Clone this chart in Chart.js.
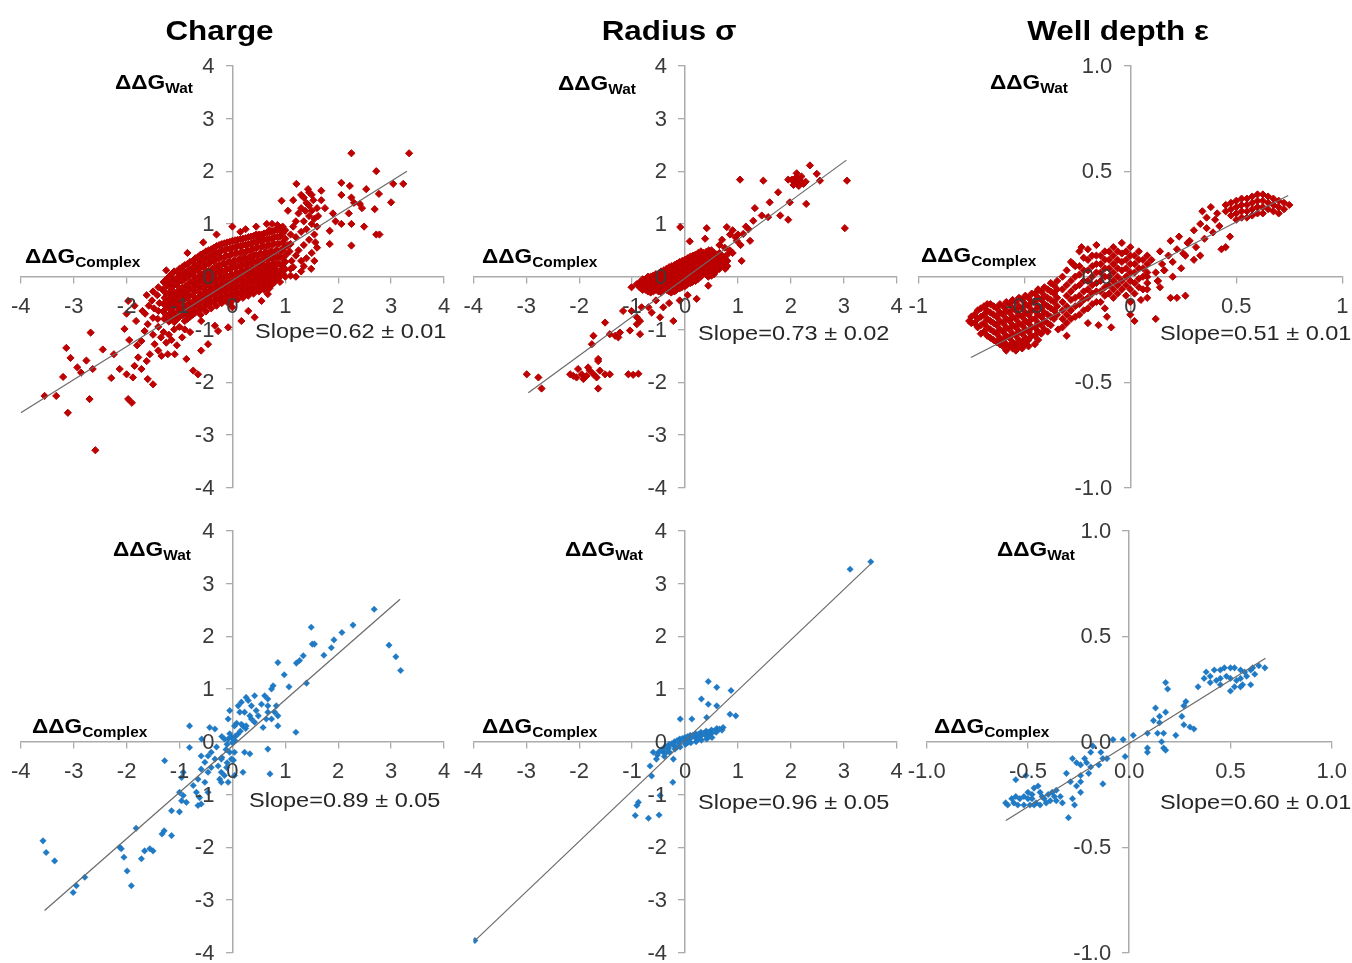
<!DOCTYPE html>
<html>
<head>
<meta charset="utf-8">
<script src="https://cdn.jsdelivr.net/npm/chart.js@4.4.1/dist/chart.umd.min.js"></script>
<style>
  body { margin: 0; background: #fff; width: 1352px; height: 963px; position: relative; overflow: hidden; }
  canvas { position: absolute; }
</style>
</head>
<body>
<script>
// ---- data: [ΔΔG complex, ΔΔG water] pairs ----
const titles = ['Charge', 'Radius σ', 'Well depth ε'];
const slopes = ['Slope=0.62 ± 0.01', 'Slope=0.73 ± 0.02', 'Slope=0.51 ± 0.01',
                'Slope=0.89 ± 0.05', 'Slope=0.96 ± 0.05', 'Slope=0.60 ± 0.01'];
const ticks4 = ['-4', '-3', '-2', '-1', '0', '1', '2', '3', '4'];
const wellTopX = ['-1', '-0.5', '0', '0.5', '1'];
const wellY = ['-1.0', '-0.5', '0.0', '0.5', '1.0'];
const wellBottomX = ['-1.0', '-0.5', '0.0', '0.5', '1.0'];

// regression line end points
const chargeRedFit = [[-4.0, -2.58], [3.3, 2.0]];
const radiusRedFit = [[-2.96, -2.2], [3.05, 2.21]];
const wellRedFit = [[-0.752, -0.383], [0.745, 0.385]];
const chargeBlueFit = [[-3.55, -3.2], [3.17, 2.7]];
const radiusBlueFit = [[-3.97, -3.77], [3.51, 3.37]];
const wellBlueFit = [[-0.609, -0.374], [0.673, 0.395]];

const chargeRed = [
  [-3.55,-2.26],[-3.33,-2.26],[-3.11,-2.58],[-3.14,-1.35],[-3.06,-1.54],[-3.2,-1.9],[-2.93,-1.72],[-2.86,-1.82],
  [-2.76,-1.59],[-2.68,-1.06],[-2.64,-1.75],[-2.7,-2.32],[-2.59,-3.29],[-2.29,-1.92],[-2.24,-1.47],[-2.45,-1.38],
  [-2.13,-1.75],[-2.0,-1.85],[-1.97,-2.32],[-1.9,-2.39],[-1.88,-1.91],[-1.85,-1.69],[-1.72,-1.75],[-1.6,-1.94],
  [-1.5,-2.04],[-1.78,-1.53],[-1.56,-1.47],[-1.62,-1.6],[-1.72,-1.22],[-1.47,-1.28],[-1.66,-1.03],[-1.82,-0.84],
  [-2.04,-0.99],[-1.97,-0.46],[-1.95,-1.2],[-1.8,-1.3],[-1.4,-1.4],[-1.34,-1.5],[-1.22,-1.47],[-1.09,-1.47],
  [-1.25,-1.25],[-1.35,-1.15],[-1.5,-1.1],[-1.4,-0.95],[-1.3,-1.05],[-1.2,-1.1],[-1.1,-1.0],[-1.05,-1.3],
  [-1.0,-0.95],[-0.9,-1.0],[-0.8,-1.05],[-1.6,-0.9],[-1.7,-0.65],[-1.85,-0.55],[-2.0,-0.7],[-0.87,-1.56],
  [-0.74,-1.78],[-0.65,-1.85],[-0.59,-1.4],[-0.46,-1.28],[-0.27,-1.03],[-0.59,-0.84],[-0.33,-0.93],[-0.08,-0.96],
  [0.17,-0.84],[0.3,-0.65],[0.42,-0.77],[0.55,-0.46],[0.67,-0.33],[-1.15,-1.2],[-0.95,-1.15],
  [-1.62,-0.35],[-1.58,-0.55],[-1.65,-0.7],
  [-1.5,-0.28],[-1.52,-0.45],[-1.48,-0.6],[-1.5,-0.78],
  [-1.4,-0.2],[-1.42,-0.35],[-1.38,-0.5],[-1.4,-0.65],[-1.41,-0.8],
  [-1.3,-0.1],[-1.32,-0.25],[-1.28,-0.4],[-1.3,-0.52],[-1.31,-0.66],[-1.29,-0.8],
  [-1.2,0.0],[-1.21,-0.15],[-1.19,-0.3],[-1.2,-0.43],[-1.22,-0.56],[-1.18,-0.7],[-1.2,-0.85],
  [-1.1,0.1],[-1.1,-0.05],[-1.12,-0.18],[-1.08,-0.32],[-1.1,-0.45],[-1.11,-0.58],[-1.09,-0.72],[-1.1,-0.86],
  [-1.0,0.15],[-1.0,0.02],[-1.02,-0.1],[-0.98,-0.24],[-1.0,-0.36],[-1.01,-0.5],[-0.99,-0.62],[-1.0,-0.76],
  [-0.9,0.22],[-0.9,0.08],[-0.92,-0.05],[-0.88,-0.18],[-0.9,-0.3],[-0.91,-0.43],[-0.89,-0.56],[-0.9,-0.7],[-0.9,-0.84],
  [-0.8,0.28],[-0.8,0.14],[-0.82,0.02],[-0.78,-0.1],[-0.8,-0.23],[-0.81,-0.36],[-0.79,-0.5],[-0.8,-0.62],[-0.8,-0.76],
  [-0.7,0.35],[-0.7,0.22],[-0.72,0.1],[-0.68,-0.03],[-0.7,-0.16],[-0.71,-0.28],[-0.69,-0.42],[-0.7,-0.55],[-0.7,-0.68],
  [-0.6,0.42],[-0.6,0.3],[-0.62,0.17],[-0.58,0.04],[-0.6,-0.08],[-0.61,-0.2],[-0.59,-0.34],[-0.6,-0.47],[-0.6,-0.6],[-0.6,-0.72],
  [-0.5,0.48],[-0.5,0.35],[-0.52,0.22],[-0.48,0.1],[-0.5,-0.03],[-0.51,-0.16],[-0.49,-0.28],[-0.5,-0.4],[-0.5,-0.53],[-0.5,-0.66],
  [-0.4,0.52],[-0.4,0.4],[-0.42,0.28],[-0.38,0.15],[-0.4,0.02],[-0.41,-0.1],[-0.39,-0.22],[-0.4,-0.35],[-0.4,-0.48],[-0.4,-0.6],
  [-0.3,0.58],[-0.3,0.45],[-0.32,0.33],[-0.28,0.2],[-0.3,0.08],[-0.31,-0.05],[-0.29,-0.17],[-0.3,-0.3],[-0.3,-0.42],[-0.3,-0.55],
  [-0.2,0.62],[-0.2,0.5],[-0.22,0.37],[-0.18,0.25],[-0.2,0.12],[-0.21,0.0],[-0.19,-0.12],[-0.2,-0.25],[-0.2,-0.38],[-0.2,-0.5],
  [-0.1,0.65],[-0.1,0.53],[-0.12,0.4],[-0.08,0.28],[-0.1,0.15],[-0.11,0.03],[-0.09,-0.1],[-0.1,-0.22],[-0.1,-0.35],[-0.1,-0.48],
  [0.0,0.68],[0.0,0.55],[-0.02,0.43],[0.02,0.3],[0.0,0.18],[-0.01,0.05],[0.01,-0.08],[0.0,-0.2],[0.0,-0.33],[0.0,-0.45],[0.0,-0.58],
  [0.1,0.7],[0.1,0.58],[0.08,0.45],[0.12,0.33],[0.1,0.2],[0.09,0.08],[0.11,-0.05],[0.1,-0.18],[0.1,-0.3],[0.1,-0.43],
  [0.2,0.72],[0.2,0.6],[0.18,0.48],[0.22,0.36],[0.2,0.24],[0.19,0.11],[0.21,-0.01],[0.2,-0.14],[0.2,-0.27],[0.2,-0.4],
  [0.3,0.75],[0.3,0.62],[0.28,0.5],[0.32,0.38],[0.3,0.26],[0.29,0.14],[0.31,0.02],[0.3,-0.1],[0.3,-0.23],[0.3,-0.36],
  [0.4,0.77],[0.4,0.65],[0.38,0.53],[0.42,0.41],[0.4,0.29],[0.39,0.17],[0.41,0.05],[0.4,-0.07],[0.4,-0.2],[0.4,-0.32],
  [0.5,0.8],[0.5,0.68],[0.48,0.56],[0.52,0.44],[0.5,0.32],[0.49,0.2],[0.51,0.08],[0.5,-0.04],[0.5,-0.16],[0.5,-0.28],
  [0.6,0.82],[0.6,0.7],[0.58,0.58],[0.62,0.46],[0.6,0.34],[0.59,0.22],[0.61,0.1],[0.6,-0.02],[0.6,-0.14],[0.6,-0.25],
  [0.7,0.85],[0.7,0.72],[0.68,0.6],[0.72,0.48],[0.7,0.36],[0.69,0.24],[0.71,0.12],[0.7,0.0],[0.7,-0.12],[0.7,-0.22],
  [0.8,0.88],[0.8,0.75],[0.78,0.63],[0.82,0.5],[0.8,0.38],[0.79,0.26],[0.81,0.14],[0.8,0.02],[0.8,-0.1],
  [0.9,0.9],[0.9,0.76],[0.88,0.62],[0.92,0.5],[0.9,0.38],[0.89,0.25],[0.91,0.12],[0.9,0.0],[0.9,-0.1],
  [1.0,0.88],[1.0,0.72],[0.98,0.55],[1.02,0.42],[1.0,0.28],[1.0,0.14],[1.0,0.0],
  [1.1,0.8],[1.1,0.62],[1.08,0.48],[1.12,0.3],[1.1,0.15],[1.1,0.02],
  [-1.25,-0.05],[-1.25,-0.18],[-1.25,-0.32],[-1.25,-0.46],[-1.25,-0.6],[-1.25,-0.74],
  [-1.15,0.05],[-1.15,-0.1],[-1.15,-0.24],[-1.15,-0.38],[-1.15,-0.51],[-1.15,-0.64],[-1.15,-0.78],
  [-1.05,0.1],[-1.05,-0.03],[-1.05,-0.16],[-1.05,-0.29],[-1.05,-0.42],[-1.05,-0.55],[-1.05,-0.68],[-1.05,-0.81],
  [-0.95,0.18],[-0.95,0.05],[-0.95,-0.08],[-0.95,-0.21],[-0.95,-0.34],[-0.95,-0.47],[-0.95,-0.6],[-0.95,-0.73],
  [-0.85,0.24],[-0.85,0.11],[-0.85,-0.02],[-0.85,-0.15],[-0.85,-0.28],[-0.85,-0.41],[-0.85,-0.54],[-0.85,-0.67],[-0.85,-0.8],
  [-0.75,0.3],[-0.75,0.17],[-0.75,0.04],[-0.75,-0.09],[-0.75,-0.22],[-0.75,-0.35],[-0.75,-0.48],[-0.75,-0.6],[-0.75,-0.72],
  [-0.65,0.37],[-0.65,0.24],[-0.65,0.11],[-0.65,-0.02],[-0.65,-0.14],[-0.65,-0.27],[-0.65,-0.4],[-0.65,-0.53],[-0.65,-0.66],
  [-0.55,0.44],[-0.55,0.31],[-0.55,0.18],[-0.55,0.05],[-0.55,-0.08],[-0.55,-0.21],[-0.55,-0.34],[-0.55,-0.46],[-0.55,-0.59],
  [-0.45,0.5],[-0.45,0.37],[-0.45,0.24],[-0.45,0.1],[-0.45,-0.03],[-0.45,-0.16],[-0.45,-0.29],[-0.45,-0.42],[-0.45,-0.54],
  [-0.35,0.55],[-0.35,0.42],[-0.35,0.29],[-0.35,0.16],[-0.35,0.03],[-0.35,-0.1],[-0.35,-0.23],[-0.35,-0.36],[-0.35,-0.48],
  [-0.25,0.6],[-0.25,0.47],[-0.25,0.34],[-0.25,0.21],[-0.25,0.08],[-0.25,-0.05],[-0.25,-0.18],[-0.25,-0.31],[-0.25,-0.44],
  [-0.15,0.63],[-0.15,0.5],[-0.15,0.37],[-0.15,0.24],[-0.15,0.11],[-0.15,-0.02],[-0.15,-0.15],[-0.15,-0.28],[-0.15,-0.41],
  [-0.05,0.66],[-0.05,0.53],[-0.05,0.4],[-0.05,0.27],[-0.05,0.14],[-0.05,0.01],[-0.05,-0.12],[-0.05,-0.25],[-0.05,-0.38],[-0.05,-0.5],
  [0.05,0.69],[0.05,0.56],[0.05,0.43],[0.05,0.3],[0.05,0.17],[0.05,0.04],[0.05,-0.09],[0.05,-0.22],[0.05,-0.35],
  [0.15,0.71],[0.15,0.58],[0.15,0.45],[0.15,0.32],[0.15,0.19],[0.15,0.06],[0.15,-0.07],[0.15,-0.2],[0.15,-0.33],
  [0.25,0.73],[0.25,0.6],[0.25,0.47],[0.25,0.34],[0.25,0.21],[0.25,0.08],[0.25,-0.05],[0.25,-0.18],[0.25,-0.3],
  [0.35,0.76],[0.35,0.63],[0.35,0.5],[0.35,0.37],[0.35,0.24],[0.35,0.11],[0.35,-0.01],[0.35,-0.13],[0.35,-0.26],
  [0.45,0.78],[0.45,0.66],[0.45,0.54],[0.45,0.41],[0.45,0.28],[0.45,0.15],[0.45,0.02],[0.45,-0.1],[0.45,-0.22],
  [0.55,0.8],[0.55,0.68],[0.55,0.56],[0.55,0.43],[0.55,0.3],[0.55,0.17],[0.55,0.04],[0.55,-0.08],[0.55,-0.2],
  [0.65,0.83],[0.65,0.71],[0.65,0.58],[0.65,0.45],[0.65,0.32],[0.65,0.19],[0.65,0.06],[0.65,-0.06],[0.65,-0.17],
  [0.75,0.86],[0.75,0.73],[0.75,0.6],[0.75,0.47],[0.75,0.34],[0.75,0.21],[0.75,0.08],[0.75,-0.04],[0.75,-0.15],
  [0.85,0.88],[0.85,0.75],[0.85,0.62],[0.85,0.49],[0.85,0.36],[0.85,0.23],[0.85,0.1],[0.85,-0.03],
  [0.95,0.82],[0.95,0.65],[0.95,0.5],[0.95,0.35],[0.95,0.2],[0.95,0.06],
  [0.0,0.95],[-0.3,0.8],[-0.55,0.65],[-0.85,0.45],[-1.25,0.12],[0.15,0.85],[0.45,0.95],[0.25,0.9],
  [0.65,1.0],[0.75,1.0],[0.85,0.98],[0.95,0.95],[0.7,0.88],[0.55,0.75],[0.45,0.8],
  [1.21,1.76],[1.3,1.55],[1.35,1.5],[1.43,1.66],[1.45,1.6],[1.5,1.55],[1.53,1.45],[1.4,1.4],[1.45,1.35],[1.5,1.25],
  [1.38,1.25],[1.3,1.3],[1.25,1.2],[1.45,1.15],[1.55,1.1],[1.35,1.05],[1.2,1.05],[1.5,1.0],[1.6,0.95],[1.4,0.9],
  [1.3,0.85],[1.55,0.8],[1.15,0.95],[1.2,0.75],[1.45,0.7],[1.35,0.6],[1.6,0.55],[1.25,0.5],[1.5,0.45],[1.4,0.35],
  [1.49,0.15],[1.15,0.18],[1.05,0.6],[0.93,1.44],[1.05,1.25],[1.15,1.45],[1.6,1.3],[1.62,1.15],[1.57,0.65],
  [1.55,0.3],[1.3,0.3],[1.2,0.4],[1.2,0.0],[1.3,0.1],[1.35,0.2],
  [2.25,2.34],[3.34,2.34],[2.72,2.0],[3.04,1.76],[3.23,1.76],[2.53,1.66],[2.06,1.78],[2.22,1.72],[2.06,1.55],
  [2.25,1.5],[2.77,1.57],[2.3,1.4],[2.41,1.38],[2.45,1.3],[2.69,1.28],[3.0,1.41],[2.2,1.2],[2.06,1.0],[2.25,1.0],
  [2.49,0.95],[2.72,0.8],[2.78,0.8],[2.25,0.59],[1.84,0.87],[1.84,0.62],[1.68,1.63],[1.68,1.45],[1.75,1.3],
  [1.9,1.2],[1.95,1.05]
];

const radiusRed = [
  [2.36,2.11],[2.11,1.96],[1.95,1.84],[2.02,1.84],[2.06,1.8],[2.12,1.78],[2.18,1.82],[2.24,1.76],[2.1,1.88],
  [2.2,1.9],[2.28,1.8],[2.15,1.72],[2.05,1.74],[2.49,1.95],[2.55,1.82],[3.06,1.82],[3.02,0.92],[1.04,1.84],
  [1.48,1.82],[1.76,1.6],[1.6,1.41],[1.98,1.41],[1.8,1.16],[1.95,1.08],[2.29,1.38],[1.32,1.3],[1.45,1.16],
  [1.57,1.13],[1.29,1.06],[-0.09,0.94],[0.41,0.92],[0.38,0.72],[0.09,0.67],[0.79,0.94],[0.9,0.88],[1.0,0.8],
  [0.85,0.8],[0.95,0.75],[0.98,0.68],[1.1,0.81],[1.2,0.9],[1.23,0.68],[1.07,0.3],[0.65,0.6],[0.75,0.55],
  [0.85,0.5],[0.9,0.45],[0.8,0.42],[0.44,-0.17],[1.15,0.95],[1.05,0.6],[0.7,0.7],
  [-0.85,-0.1],[-0.86,-0.2],
  [-0.75,-0.05],[-0.76,-0.15],[-0.74,-0.25],
  [-0.65,0.0],[-0.66,-0.1],[-0.64,-0.2],[-0.65,-0.3],
  [-0.55,0.05],[-0.56,-0.05],[-0.54,-0.15],[-0.55,-0.25],
  [-0.45,0.1],[-0.46,0.0],[-0.44,-0.1],[-0.45,-0.2],[-0.45,-0.3],
  [-0.35,0.15],[-0.36,0.05],[-0.34,-0.05],[-0.35,-0.15],[-0.35,-0.25],
  [-0.25,0.2],[-0.26,0.1],[-0.24,0.0],[-0.25,-0.1],[-0.25,-0.2],[-0.26,-0.3],
  [-0.15,0.25],[-0.16,0.15],[-0.14,0.05],[-0.15,-0.05],[-0.15,-0.15],[-0.16,-0.25],
  [-0.05,0.3],[-0.06,0.2],[-0.04,0.1],[-0.05,0.0],[-0.05,-0.1],[-0.06,-0.2],
  [0.05,0.35],[0.04,0.25],[0.06,0.15],[0.05,0.05],[0.05,-0.05],[0.04,-0.15],
  [0.15,0.4],[0.14,0.3],[0.16,0.2],[0.15,0.1],[0.15,0.0],[0.14,-0.1],
  [0.25,0.45],[0.24,0.35],[0.26,0.25],[0.25,0.15],[0.25,0.05],[0.24,-0.05],
  [0.35,0.45],[0.34,0.35],[0.36,0.25],[0.35,0.15],[0.35,0.05],
  [0.45,0.5],[0.44,0.4],[0.46,0.3],[0.45,0.2],[0.45,0.1],[0.44,0.0],
  [0.55,0.45],[0.54,0.35],[0.56,0.25],[0.55,0.15],[0.55,0.05],
  [0.65,0.45],[0.64,0.35],[0.66,0.25],[0.65,0.15],
  [0.75,0.35],[0.74,0.25],[0.76,0.15],
  [-0.8,-0.05],[-0.8,-0.15],[-0.8,-0.25],
  [-0.7,0.0],[-0.7,-0.08],[-0.7,-0.18],[-0.7,-0.28],
  [-0.6,0.02],[-0.6,-0.05],[-0.6,-0.12],[-0.6,-0.2],[-0.6,-0.28],
  [-0.5,0.05],[-0.5,-0.02],[-0.5,-0.1],[-0.5,-0.2],[-0.5,-0.28],
  [-0.4,0.12],[-0.4,0.05],[-0.4,-0.05],[-0.4,-0.15],[-0.4,-0.25],
  [-0.3,0.18],[-0.3,0.1],[-0.3,0.0],[-0.3,-0.1],[-0.3,-0.2],[-0.3,-0.28],
  [-0.2,0.22],[-0.2,0.12],[-0.2,0.02],[-0.2,-0.08],[-0.2,-0.18],[-0.2,-0.28],
  [-0.1,0.28],[-0.1,0.18],[-0.1,0.08],[-0.1,-0.02],[-0.1,-0.12],[-0.1,-0.22],
  [0.0,0.32],[0.0,0.22],[0.0,0.12],[0.0,0.02],[0.0,-0.08],[0.0,-0.18],
  [0.1,0.38],[0.1,0.28],[0.1,0.18],[0.1,0.08],[0.1,-0.02],[0.1,-0.12],
  [0.2,0.42],[0.2,0.32],[0.2,0.22],[0.2,0.12],[0.2,0.02],[0.2,-0.08],
  [0.3,0.48],[0.3,0.4],[0.3,0.3],[0.3,0.2],[0.3,0.1],[0.3,0.0],
  [0.4,0.47],[0.4,0.37],[0.4,0.27],[0.4,0.17],[0.4,0.07],
  [0.5,0.5],[0.5,0.4],[0.5,0.3],[0.5,0.2],[0.5,0.1],[0.5,0.02],
  [0.6,0.42],[0.6,0.32],[0.6,0.22],[0.6,0.12],
  [0.7,0.4],[0.7,0.3],[0.7,0.2],[0.8,0.3],[0.8,0.2],
  [-0.91,-0.14],[-1.01,-0.2],[-1.17,-0.65],[-1.01,-0.65],[-0.91,-0.77],[-0.82,-0.58],[-0.69,-0.58],[-0.63,-0.68],
  [-0.85,-0.84],[-0.91,-0.9],[-0.47,-0.77],[-0.22,-0.84],[-0.41,-0.58],[0.22,-0.42],[-0.85,-1.09],[-1.04,-1.02],
  [-1.51,-0.87],[-1.42,-1.09],[-1.32,-1.12],[-1.26,-1.15],[-1.23,-1.06],[-1.73,-1.12],[-1.76,-1.28],[-1.64,-1.56],
  [-0.55,-0.45],[-0.3,-0.5],[-0.1,-0.45],[0.05,-0.35],
  [-2.99,-1.85],[-2.77,-1.91],[-2.71,-2.12],[-2.17,-1.85],[-2.11,-1.88],[-2.05,-1.91],[-1.95,-1.85],[-1.92,-1.94],
  [-1.86,-1.88],[-1.8,-1.78],[-1.73,-1.85],[-1.67,-1.91],[-1.64,-2.12],[-1.61,-1.78],[-1.51,-1.85],[-1.42,-1.85],
  [-2.02,-1.75],[-1.83,-1.72],[-1.64,-1.6],[-1.07,-1.85],[-0.98,-1.86],[-0.88,-1.84]
];

const wellRed = [
  [0.34,0.31],[0.38,0.33],[0.41,0.3],[0.36,0.28],
  [0.45,0.34],[0.45,0.31],
  [0.475,0.35],[0.475,0.32],[0.475,0.29],
  [0.5,0.36],[0.5,0.33],[0.5,0.3],[0.5,0.27],
  [0.525,0.37],[0.525,0.34],[0.525,0.31],[0.525,0.28],
  [0.55,0.37],[0.55,0.34],[0.55,0.31],[0.55,0.28],
  [0.575,0.38],[0.575,0.35],[0.575,0.32],[0.575,0.29],
  [0.6,0.39],[0.6,0.36],[0.6,0.33],[0.6,0.3],
  [0.625,0.39],[0.625,0.36],[0.625,0.33],[0.625,0.3],
  [0.65,0.38],[0.65,0.35],[0.65,0.32],
  [0.675,0.37],[0.675,0.34],[0.675,0.31],
  [0.7,0.36],[0.7,0.33],[0.7,0.3],
  [0.725,0.35],[0.725,0.32],[0.75,0.34],
  [0.3,0.22],[0.33,0.25],[0.39,0.21],[0.42,0.24],[0.35,0.18],[0.4,0.27],[0.28,0.17],[0.31,0.14],[0.45,0.14],
  [0.47,0.19],[0.36,0.23],[0.43,0.13],[0.33,0.1],[0.26,0.1],[0.3,0.08],[0.12,0.02],[0.15,0.06],[0.18,0.1],
  [0.2,0.07],[0.22,0.13],[0.25,0.11],[0.27,0.16],[0.14,0.12],[0.1,0.08],[0.2,0.0],[0.24,0.04],[0.08,0.0],
  [0.16,0.03],[0.13,-0.02],[0.19,0.17],[0.23,0.19],
  [0.02,-0.08],[0.05,-0.11],[0.0,-0.18],[0.02,-0.21],[0.12,-0.2],[0.19,-0.1],[0.22,-0.1],[0.26,-0.09],
  [0.13,-0.02],[0.16,0.03],[0.14,-0.05],[0.08,-0.06],
  [-0.32,-0.24],[-0.32,-0.2],[-0.32,-0.16],[-0.32,-0.12],[-0.32,-0.06],[-0.32,0.0],
  [-0.28,-0.2],[-0.28,-0.16],[-0.28,-0.11],[-0.28,-0.07],[-0.28,-0.02],[-0.28,0.07],
  [-0.24,-0.18],[-0.24,-0.13],[-0.24,-0.09],[-0.24,-0.04],[-0.24,0.01],[-0.24,0.05],[-0.24,0.12],
  [-0.2,-0.22],[-0.2,-0.15],[-0.2,-0.1],[-0.2,-0.06],[-0.2,-0.02],[-0.2,0.03],[-0.2,0.08],[-0.2,0.13],
  [-0.16,-0.12],[-0.16,-0.07],[-0.16,-0.03],[-0.16,0.02],[-0.16,0.06],[-0.16,0.1],[-0.16,0.15],
  [-0.12,-0.15],[-0.12,-0.09],[-0.12,-0.05],[-0.12,0.0],[-0.12,0.04],[-0.12,0.08],[-0.12,0.12],
  [-0.08,-0.1],[-0.08,-0.06],[-0.08,-0.02],[-0.08,0.02],[-0.08,0.06],[-0.08,0.1],[-0.08,0.14],
  [-0.04,-0.06],[-0.04,-0.02],[-0.04,0.03],[-0.04,0.07],[-0.04,0.11],[-0.04,0.16],
  [0.0,-0.12],[0.0,-0.06],[0.0,-0.02],[0.0,0.02],[0.0,0.06],[0.0,0.1],[0.0,0.14],
  [0.04,-0.05],[0.04,-0.01],[0.04,0.04],[0.04,0.08],[0.04,0.12],
  [0.08,-0.1],[0.08,-0.03],[0.08,0.02],[0.08,0.06],[0.08,0.1],
  [-0.3,-0.22],[-0.3,-0.18],[-0.3,-0.14],[-0.3,-0.09],[-0.3,-0.04],[-0.3,0.03],
  [-0.26,-0.19],[-0.26,-0.14],[-0.26,-0.1],[-0.26,-0.05],[-0.26,0.0],[-0.26,0.05],
  [-0.22,-0.16],[-0.22,-0.11],[-0.22,-0.07],[-0.22,-0.02],[-0.22,0.03],[-0.22,0.09],
  [-0.18,-0.13],[-0.18,-0.08],[-0.18,-0.04],[-0.18,0.0],[-0.18,0.05],[-0.18,0.1],
  [-0.14,-0.12],[-0.14,-0.07],[-0.14,-0.02],[-0.14,0.02],[-0.14,0.06],[-0.14,0.1],
  [-0.1,-0.08],[-0.1,-0.04],[-0.1,0.0],[-0.1,0.04],[-0.1,0.08],[-0.1,0.12],
  [-0.06,-0.08],[-0.06,-0.04],[-0.06,0.0],[-0.06,0.04],[-0.06,0.08],[-0.06,0.12],
  [-0.02,-0.09],[-0.02,-0.04],[-0.02,0.0],[-0.02,0.04],[-0.02,0.08],[-0.02,0.12],
  [0.02,-0.03],[0.02,0.02],[0.02,0.06],[0.02,0.1],[0.06,-0.06],[0.06,0.0],[0.06,0.04],[0.06,0.08],
  [-0.75,-0.19],[-0.75,-0.22],
  [-0.72,-0.16],[-0.72,-0.2],[-0.72,-0.24],
  [-0.69,-0.14],[-0.69,-0.18],[-0.69,-0.22],[-0.69,-0.26],
  [-0.66,-0.13],[-0.66,-0.17],[-0.66,-0.21],[-0.66,-0.25],[-0.66,-0.29],
  [-0.63,-0.15],[-0.63,-0.19],[-0.63,-0.23],[-0.63,-0.27],[-0.63,-0.31],
  [-0.6,-0.14],[-0.6,-0.18],[-0.6,-0.22],[-0.6,-0.26],[-0.6,-0.3],[-0.6,-0.33],
  [-0.57,-0.13],[-0.57,-0.17],[-0.57,-0.21],[-0.57,-0.25],[-0.57,-0.29],[-0.57,-0.33],
  [-0.54,-0.12],[-0.54,-0.16],[-0.54,-0.2],[-0.54,-0.24],[-0.54,-0.28],[-0.54,-0.32],[-0.54,-0.35],
  [-0.51,-0.11],[-0.51,-0.15],[-0.51,-0.19],[-0.51,-0.23],[-0.51,-0.27],[-0.51,-0.31],[-0.51,-0.34],
  [-0.48,-0.1],[-0.48,-0.14],[-0.48,-0.18],[-0.48,-0.22],[-0.48,-0.26],[-0.48,-0.3],[-0.48,-0.33],
  [-0.45,-0.08],[-0.45,-0.12],[-0.45,-0.16],[-0.45,-0.2],[-0.45,-0.24],[-0.45,-0.28],[-0.45,-0.32],
  [-0.42,-0.07],[-0.42,-0.11],[-0.42,-0.15],[-0.42,-0.19],[-0.42,-0.23],[-0.42,-0.27],
  [-0.39,-0.06],[-0.39,-0.1],[-0.39,-0.14],[-0.39,-0.18],[-0.39,-0.22],[-0.39,-0.26],
  [-0.36,-0.04],[-0.36,-0.08],[-0.36,-0.12],[-0.36,-0.16],[-0.36,-0.2],
  [-0.735,-0.18],[-0.735,-0.22],
  [-0.705,-0.15],[-0.705,-0.19],[-0.705,-0.23],[-0.705,-0.27],
  [-0.675,-0.13],[-0.675,-0.16],[-0.675,-0.2],[-0.675,-0.24],[-0.675,-0.28],
  [-0.645,-0.14],[-0.645,-0.18],[-0.645,-0.22],[-0.645,-0.26],[-0.645,-0.3],
  [-0.615,-0.13],[-0.615,-0.17],[-0.615,-0.21],[-0.615,-0.25],[-0.615,-0.29],[-0.615,-0.32],
  [-0.585,-0.12],[-0.585,-0.16],[-0.585,-0.2],[-0.585,-0.24],[-0.585,-0.28],[-0.585,-0.32],[-0.585,-0.35],
  [-0.555,-0.11],[-0.555,-0.15],[-0.555,-0.19],[-0.555,-0.23],[-0.555,-0.27],[-0.555,-0.31],[-0.555,-0.34],
  [-0.525,-0.1],[-0.525,-0.14],[-0.525,-0.18],[-0.525,-0.22],[-0.525,-0.26],[-0.525,-0.3],[-0.525,-0.33],
  [-0.495,-0.09],[-0.495,-0.13],[-0.495,-0.17],[-0.495,-0.21],[-0.495,-0.25],[-0.495,-0.29],[-0.495,-0.32],
  [-0.465,-0.08],[-0.465,-0.12],[-0.465,-0.16],[-0.465,-0.2],[-0.465,-0.24],[-0.465,-0.28],
  [-0.435,-0.06],[-0.435,-0.1],[-0.435,-0.14],[-0.435,-0.18],[-0.435,-0.22],[-0.435,-0.26],[-0.435,-0.3],
  [-0.405,-0.05],[-0.405,-0.09],[-0.405,-0.13],[-0.405,-0.17],[-0.405,-0.21],[-0.405,-0.25],
  [-0.375,-0.03],[-0.375,-0.07],[-0.375,-0.11],[-0.375,-0.15],[-0.375,-0.19],[-0.375,-0.23],
  [-0.345,-0.02],[-0.345,-0.06],[-0.345,-0.1],[-0.345,-0.14],[-0.345,-0.18],
  [-0.76,-0.21],[-0.27,0.06],[-0.23,0.14],[-0.15,-0.23],[-0.11,-0.19],[-0.09,-0.24],[-0.3,-0.28],[-0.34,-0.25]
];

const chargeBlue = [
  [2.68,2.51],[1.49,2.17],[2.28,2.21],[2.07,2.07],[1.92,1.93],[1.51,1.85],[1.55,1.85],[1.87,1.78],[1.73,1.64],
  [1.34,1.63],[1.27,1.54],[1.21,1.49],[0.86,1.5],[2.96,1.83],[3.09,1.61],[3.18,1.35],[0.98,1.27],[1.07,1.04],
  [1.4,1.11],[0.77,1.06],[0.74,1.0],[1.2,0.18],[0.42,0.87],[0.61,0.87],[0.67,0.81],[0.55,0.71],[0.67,0.68],
  [0.83,0.68],[0.8,0.56],[0.86,0.49],[0.64,0.43],[0.17,0.75],[0.3,0.78],[0.23,0.56],[0.33,0.49],[0.36,0.43],
  [0.42,0.37],[0.49,0.49],[0.11,0.68],[0.14,0.56],[-0.05,0.59],[-0.81,0.3],[-0.43,0.27],[-0.33,0.24],
  [-0.2,0.1],[-0.15,0.05],[-0.08,0.05],[-0.02,0.08],[0.05,0.1],[0.1,0.14],[0.15,0.2],[0.05,0.02],[0.0,-0.02],
  [-0.1,-0.05],[-0.05,0.15],[0.2,0.3],[0.08,0.35],[0.25,0.25],[-0.58,0.05],[-0.81,-0.11],[0.58,0.27],
  [0.86,0.3],[0.67,-0.14],[0.71,-0.61],[0.23,-0.2],[0.33,-0.23],[0.2,-0.58],[-1.28,-0.36],[-0.59,-0.27],
  [-0.52,-0.39],[-0.4,-0.2],[-0.33,-0.33],[-0.27,-0.46],[-0.21,-0.58],[-0.15,-0.64],[-0.08,-0.77],[-0.24,-0.71],
  [-0.46,-0.58],[-0.59,-0.52],[-0.65,-0.71],[-0.52,-0.77],[-0.46,-0.96],[-0.3,-0.1],[-0.2,-0.3],[-0.1,-0.4],
  [-0.05,-0.2],[0.02,-0.35],[-0.12,-0.15],[0.04,-0.2],[-0.21,-0.33],[-0.02,-0.33],[-0.11,-0.49],[0.04,-0.64],
  [-0.21,-0.77],[-0.4,-0.49],[-0.46,-0.27],[-0.08,0.43],[0.04,0.3],[0.17,0.33],[0.26,0.3],[0.36,0.68],
  [0.45,0.59],[0.26,0.84],[0.67,0.56],[0.74,0.43],
  [-0.93,-0.58],[-0.96,-0.68],[-1.0,-0.96],[-0.93,-1.02],[-0.96,-1.12],[-0.87,-1.15],[-0.74,-0.83],[-0.68,-0.96],
  [-0.62,-1.06],[-0.59,-1.18],[-0.65,-1.21],[-1.15,-1.31],[-1.0,-1.33],[-1.29,-1.69],[-1.33,-1.75],[-1.15,-1.78],
  [-1.82,-1.64],[-2.13,-2.0],[-2.1,-2.03],[-2.05,-2.19],[-1.99,-2.45],[-1.91,-2.73],[-1.72,-2.22],[-1.66,-2.07],
  [-1.56,-2.03],[-1.5,-2.07],[-3.58,-1.88],[-3.52,-2.1],[-3.36,-2.26],[-3.01,-2.86],[-2.95,-2.73],[-2.79,-2.57]
];

const radiusBlue = [
  [3.51,3.41],[3.12,3.27],[0.44,1.14],[0.6,1.03],[0.87,0.97],[-0.09,0.43],[0.13,0.43],[0.31,0.81],[0.44,0.71],
  [0.6,0.68],[0.41,0.46],[0.85,0.52],[0.96,0.49],[0.72,0.27],
  [-0.5,-0.2],[-0.52,-0.25],
  [-0.4,-0.12],[-0.41,-0.2],[-0.39,-0.28],
  [-0.3,-0.05],[-0.31,-0.12],[-0.29,-0.2],
  [-0.2,0.0],[-0.21,-0.07],[-0.19,-0.14],
  [-0.1,0.05],[-0.11,-0.02],[-0.09,-0.1],
  [0.0,0.08],[-0.01,0.02],[0.01,-0.05],
  [0.1,0.12],[0.09,0.05],[0.11,-0.02],
  [0.2,0.15],[0.19,0.08],[0.21,0.0],
  [0.3,0.18],[0.29,0.1],[0.31,0.03],
  [0.4,0.2],[0.39,0.12],[0.41,0.05],
  [0.5,0.22],[0.49,0.15],[0.51,0.08],
  [0.6,0.25],[0.59,0.18],[0.7,0.22],
  [-0.45,-0.16],[-0.35,-0.1],[-0.25,-0.04],[-0.15,0.02],[-0.05,0.06],[0.05,0.1],[0.15,0.12],[0.25,0.14],
  [0.35,0.16],[0.45,0.18],[0.55,0.2],[0.65,0.24],[-0.35,-0.2],[-0.15,-0.1],[0.05,-0.02],[0.25,0.06],[0.45,0.1],
  [-0.6,-0.2],[-0.54,-0.33],[-0.22,-0.33],
  [-0.66,-0.46],[-0.63,-0.65],[-0.23,-0.77],[-0.47,-1.02],[-0.91,-1.21],[-0.88,-1.15],[-0.94,-1.4],
  [-0.69,-1.45],[-0.49,-1.39],[-3.97,-3.77]
];

const wellBlue = [
  [0.34,0.26],[0.37,0.3],[0.38,0.33],[0.4,0.31],[0.42,0.34],[0.45,0.34],[0.47,0.35],[0.5,0.35],[0.52,0.35],
  [0.55,0.34],[0.57,0.33],[0.6,0.34],[0.61,0.35],[0.64,0.36],[0.67,0.35],[0.4,0.28],[0.43,0.29],[0.45,0.3],
  [0.48,0.31],[0.5,0.3],[0.53,0.29],[0.55,0.3],[0.58,0.31],[0.5,0.24],[0.52,0.26],[0.6,0.27],[0.62,0.32],
  [0.45,0.27],[0.56,0.27],[0.55,0.26],
  [0.18,0.28],[0.19,0.25],[0.28,0.19],[0.27,0.17],[0.26,0.12],[0.3,0.07],[0.32,0.06],[0.27,0.08],
  [0.13,0.16],[0.15,0.12],[0.18,0.14],[0.12,0.1],[0.15,0.09],[0.14,0.04],[0.09,0.04],[0.17,0.04],[0.23,0.03],
  [0.16,0.0],[0.17,-0.03],[0.18,-0.04],[0.09,-0.03],[0.09,-0.05],[0.02,0.03],[-0.03,0.01],[-0.08,0.01],
  [-0.02,-0.07],
  [-0.14,-0.05],[-0.13,-0.08],[-0.15,-0.11],[-0.19,-0.12],[-0.2,-0.15],[-0.24,-0.16],[-0.24,-0.19],[-0.26,-0.21],
  [-0.13,-0.2],[-0.24,-0.24],[-0.28,-0.27],[-0.3,-0.36],[-0.27,-0.3],[-0.21,-0.1],
  [-0.61,-0.29],[-0.57,-0.29],[-0.55,-0.3],[-0.52,-0.26],[-0.5,-0.27],[-0.48,-0.25],[-0.47,-0.22],
  [-0.56,-0.18],[-0.51,-0.16],
  [-0.48,-0.27],[-0.46,-0.29],[-0.44,-0.24],[-0.43,-0.26],[-0.41,-0.29],[-0.39,-0.28],[-0.37,-0.26],[-0.36,-0.28],
  [-0.34,-0.26],[-0.33,-0.29],[-0.38,-0.24],[-0.36,-0.23],[-0.52,-0.3],[-0.49,-0.3],[-0.47,-0.3],[-0.44,-0.3],
  [-0.42,-0.27],[-0.4,-0.25],[-0.45,-0.21],[-0.5,-0.24],[-0.54,-0.27],[-0.58,-0.27],[-0.6,-0.3],[-0.56,-0.26],
  [-0.31,-0.15],[-0.29,-0.19],[-0.24,-0.11],[-0.22,-0.08],[-0.19,-0.05],[-0.11,-0.08],[-0.18,-0.02],
  [-0.28,-0.08],[-0.26,-0.1]
];

// ---- layout (page pixels) ----
const RED = '#c00000', RED_EDGE = '#b40000';
const BLUE = '#1f7bc6', BLUE_EDGE = '#1a6db4';
const AXIS = '#ababab';
const TICK_COLOR = '#3a3a3a';
const FONT = '"Liberation Sans", Arial, sans-serif';

const panels = [
  { pts: chargeRed, fit: chargeRedFit, fill: RED, edge: RED_EDGE, r: 3.6, bw: 1, lim: 4, step: 1, xl: ticks4, yl: ticks4,
    cell: [0, 0, 470, 515], area: [20.7, 65.7, 444, 487.7], title: [titles[0], 219.5], wat: [115, 88.5], cpx: [25, 262.5], slope: [slopes[0], 255, 338] },
  { pts: radiusRed, fit: radiusRedFit, fill: RED, edge: RED_EDGE, r: 3.6, bw: 1, lim: 4, step: 1, xl: ticks4, yl: ticks4,
    cell: [440, 0, 480, 515], area: [473.3, 65.7, 896.7, 487.7], title: [titles[1], 669], wat: [558, 89.5], cpx: [482, 262.5], slope: [slopes[1], 698, 340] },
  { pts: wellRed, fit: wellRedFit, fill: RED, edge: RED_EDGE, r: 3.6, bw: 1, lim: 1, step: 0.5, xl: wellTopX, yl: wellY,
    cell: [890, 0, 480, 515], area: [918.3, 65.7, 1342.3, 487.7], title: [titles[2], 1118], wat: [990, 88.5], cpx: [921, 262], slope: [slopes[2], 1160, 340] },
  { pts: chargeBlue, fit: chargeBlueFit, fill: BLUE, edge: BLUE_EDGE, r: 3.3, bw: 0.3, lim: 4, step: 1, xl: ticks4, yl: ticks4,
    cell: [0, 500, 470, 500], area: [20.7, 530.7, 444, 952.7], wat: [113, 555.5], cpx: [32, 733.3], slope: [slopes[3], 249, 807] },
  { pts: radiusBlue, fit: radiusBlueFit, fill: BLUE, edge: BLUE_EDGE, r: 3.3, bw: 0.3, lim: 4, step: 1, xl: ticks4, yl: ticks4,
    cell: [440, 500, 480, 500], area: [473.3, 530.7, 896.7, 952.7], wat: [565, 555.5], cpx: [482, 733.3], slope: [slopes[4], 698, 809] },
  { pts: wellBlue, fit: wellBlueFit, fill: BLUE, edge: BLUE_EDGE, r: 3.3, bw: 0.3, lim: 1, step: 0.5, xl: wellBottomX, yl: wellY,
    cell: [890, 500, 480, 500], area: [926.7, 530.7, 1331.7, 952.7], wat: [997, 555.5], cpx: [934, 733.3], slope: [slopes[5], 1160, 809] }
];

function stretchText(ctx, text, x, y, font, color, align, sx) {
  ctx.save();
  ctx.translate(x, y);
  ctx.scale(sx, 1);
  ctx.font = font;
  ctx.fillStyle = color;
  ctx.textAlign = align;
  ctx.textBaseline = 'alphabetic';
  ctx.fillText(text, 0, 0);
  const w = ctx.measureText(text).width * sx;
  ctx.restore();
  return w;
}

function axisName(ctx, sub, x, y) {
  const w = stretchText(ctx, 'ΔΔG', x, y, 'bold 21px ' + FONT, '#000', 'left', 1.08);
  stretchText(ctx, sub, x + w, y + 4, 'bold 14px ' + FONT, '#000', 'left', 1.1);
}

// y tick labels sit left of the crossing axis; titles, axis names and slope text
function textPlugin(p) {
  return {
    id: 'panelText',
    afterDraw(chart) {
      const ctx = chart.ctx;
      const { x, y } = chart.scales;
      const x0 = x.getPixelForValue(0);
      ctx.save();
      ctx.font = '22px ' + FONT;
      ctx.fillStyle = TICK_COLOR;
      ctx.textAlign = 'right';
      ctx.textBaseline = 'middle';
      y.ticks.forEach((t, i) => {
        ctx.fillText(p.yl[i], x0 - 18, y.getPixelForValue(t.value) + 1);
      });
      ctx.restore();

      ctx.save();
      ctx.translate(-p.cell[0], -p.cell[1]);
      if (p.title) stretchText(ctx, p.title[0], p.title[1], 40, 'bold 28px ' + FONT, '#000', 'center', 1.12);
      axisName(ctx, 'Wat', p.wat[0], p.wat[1]);
      axisName(ctx, 'Complex', p.cpx[0], p.cpx[1]);
      stretchText(ctx, p.slope[0], p.slope[1], p.slope[2], '21px ' + FONT, '#262626', 'left', 1.12);
      ctx.restore();
    }
  };
}

function axisOpts(labels, p, isX) {
  return {
    type: 'linear',
    position: isX ? { y: 0 } : { x: 0 },
    min: -p.lim,
    max: p.lim,
    afterFit(s) { if (isX) s.height = 0; else s.width = 0; },
    ticks: {
      display: isX,
      stepSize: p.step,
      autoSkip: false,
      maxRotation: 0,
      padding: 11,
      z: 1,
      color: TICK_COLOR,
      font: { family: FONT, size: 22 },
      callback: (v, i) => labels[i]
    },
    grid: { drawOnChartArea: false, drawTicks: true, tickLength: 6, color: AXIS, lineWidth: 1.3 },
    border: { display: true, color: AXIS, width: 1.5 }
  };
}

panels.forEach((p) => {
  const cv = document.createElement('canvas');
  cv.width = p.cell[2];
  cv.height = p.cell[3];
  cv.style.left = p.cell[0] + 'px';
  cv.style.top = p.cell[1] + 'px';
  document.body.appendChild(cv);

  new Chart(cv, {
    type: 'scatter',
    data: {
      datasets: [
        { data: p.fit, showLine: true, pointRadius: 0, borderColor: '#6a6a6a', borderWidth: 1.2, order: 0 },
        { data: p.pts, pointStyle: 'rectRot', pointRadius: p.r, backgroundColor: p.fill,
          borderColor: p.edge, borderWidth: p.bw, order: 1 }
      ]
    },
    options: {
      responsive: false,
      animation: false,
      devicePixelRatio: 1,
      events: [],
      layout: {
        padding: {
          left: p.area[0] - p.cell[0],
          top: p.area[1] - p.cell[1],
          right: p.cell[0] + p.cell[2] - p.area[2],
          bottom: p.cell[1] + p.cell[3] - p.area[3]
        }
      },
      plugins: { legend: { display: false }, tooltip: { enabled: false } },
      scales: {
        x: axisOpts(p.xl, p, true),
        y: axisOpts(p.yl, p, false)
      }
    },
    plugins: [textPlugin(p)]
  });
});
</script>
</body>
</html>
